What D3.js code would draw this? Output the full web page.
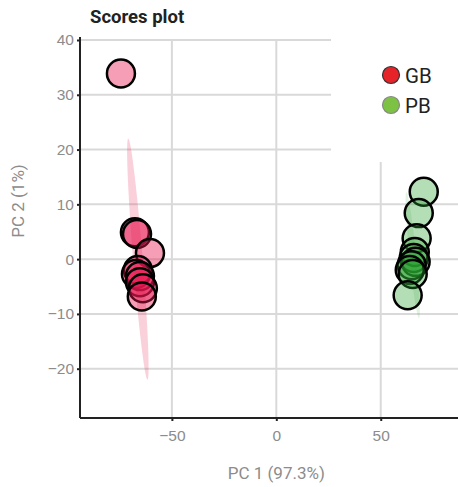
<!DOCTYPE html>
<html>
<head>
<meta charset="utf-8">
<script src="https://cdn.jsdelivr.net/npm/d3@7"></script>
<style>
  body { margin: 0; background: #fff; }
  svg { font-family: Roboto, "Open Sans", sans-serif; }
</style>
</head>
<body>
<div id="chart"></div>
<script>
var groups = ["GB", "PB"];
var gbX = [-74.4, -67.7, -66.7, -60.5, -66.3, -67.2, -65.3, -65.3, -63.9, -64.4];
var gbY = [33.9, 4.9, 4.6, 1.1, -2.0, -2.7, -3.1, -4.2, -5.3, -6.8];
var pbX = [70.6, 68.2, 67.2, 66.3, 65.8, 66.7, 64.8, 63.9, 65.3, 62.9];
var pbY = [12.3, 8.4, 3.8, 1.3, 0.2, -0.5, -1.1, -2.0, -2.7, -6.6];
// ellipse: center x, center y, half length, half width, tilt (data units)
var gbEllipse = [-66.3, 0, 22, 2.3, 4.6];
var pbEllipse = [65.3, 0.7, 11.5, 1.6, 3.0];
var xTicks = [-50, 0, 50];
var yTicks = [-20, -10, 0, 10, 20, 30, 40];

var width = 458, height = 487;
var margin = {top: 40, right: 0, bottom: 69, left: 80};

var svg = d3.select("#chart").append("svg")
    .attr("width", width)
    .attr("height", height);

var x = d3.scaleLinear().domain([-94, 87]).range([margin.left, width - margin.right]);
var y = d3.scaleLinear().domain([-29, 40]).range([height - margin.bottom, margin.top]);

// grid
svg.append("g").selectAll("line")
    .data(yTicks).enter().append("line")
    .attr("x1", margin.left).attr("x2", width)
    .attr("y1", function(d) { return y(d); }).attr("y2", function(d) { return y(d); })
    .attr("stroke", "#d9d9d9").attr("stroke-width", 2);
svg.append("g").selectAll("line")
    .data(xTicks).enter().append("line")
    .attr("y1", y(40)).attr("y2", height - margin.bottom)
    .attr("x1", function(d) { return x(d); }).attr("x2", function(d) { return x(d); })
    .attr("stroke", "#d9d9d9").attr("stroke-width", 2);

// ellipses
function ellipsePath(e) {
    var pts = d3.range(0, 65).map(function(i) {
        var t = i / 64 * 2 * Math.PI;
        var along = Math.cos(t), across = Math.sin(t);
        // long axis goes from (cx - tilt, cy + len) to (cx + tilt, cy - len)
        var px = e[0] - along * e[4] + across * e[3];
        var py = e[1] + along * e[2];
        return [x(px), y(py)];
    });
    return d3.line()(pts) + "Z";
}
svg.append("path").attr("d", ellipsePath(gbEllipse))
    .attr("fill", "rgba(232,40,90,0.22)");
svg.append("path").attr("d", ellipsePath(pbEllipse))
    .attr("fill", "rgba(60,170,60,0.15)");

// points
function drawPoints(xs, ys, fill) {
    svg.append("g").selectAll("circle")
        .data(xs).enter().append("circle")
        .attr("cx", function(d) { return x(d); })
        .attr("cy", function(d, i) { return y(ys[i]); })
        .attr("r", 14)
        .attr("fill", fill)
        .attr("stroke", "#000")
        .attr("stroke-width", 2.5);
}
drawPoints(gbX, gbY, "rgba(232,25,80,0.42)");
drawPoints(pbX, pbY, "rgba(40,160,45,0.35)");

// legend background
svg.append("rect").attr("x", 331).attr("y", 0)
    .attr("width", width - 331).attr("height", 162)
    .attr("fill", "#fff");

// axes
var yAxis = svg.append("g")
    .attr("transform", "translate(" + margin.left + ",0)")
    .call(d3.axisLeft(y).tickValues(yTicks).tickSize(3).tickPadding(3));
var xAxis = svg.append("g")
    .attr("transform", "translate(0," + (height - margin.bottom) + ")")
    .call(d3.axisBottom(x).tickValues(xTicks).tickSize(3).tickPadding(9));
[xAxis, yAxis].forEach(function(a) {
    a.select(".domain").attr("stroke", "#222").attr("stroke-width", 2);
    a.selectAll(".tick line").attr("stroke", "#222").attr("stroke-width", 2);
    a.selectAll(".tick text").attr("fill", "#8c8c8c").style("font-size", "15.5px");
});
yAxis.select(".domain").attr("d", "M0," + (margin.top - 3) + "V" + (height - margin.bottom));
xAxis.select(".domain").attr("d", "M" + margin.left + ",0H" + width);

// titles
svg.append("text").attr("x", 90).attr("y", 23)
    .style("font-size", "18.5px").style("font-weight", "bold").attr("fill", "#222")
    .text("Scores plot");
svg.append("text")
    .attr("transform", "translate(24,201) rotate(-90)")
    .attr("text-anchor", "middle")
    .style("font-size", "17px").attr("fill", "#8c8c8c")
    .text("PC 2 (1%)");
svg.append("text").attr("x", x(0)).attr("y", 479)
    .attr("text-anchor", "middle")
    .style("font-size", "17px").attr("fill", "#8c8c8c")
    .text("PC 1 (97.3%)");

// legend
var legendColors = ["#e62329", "#7dc242"];
var legendStroke = ["#333", "#888"];
var lg = svg.append("g").selectAll("g").data(groups).enter().append("g")
    .attr("transform", function(d, i) { return "translate(391," + (75 + i * 30) + ")"; });
lg.append("circle").attr("r", 8.5)
    .attr("fill", function(d, i) { return legendColors[i]; })
    .attr("stroke", function(d, i) { return legendStroke[i]; })
    .attr("stroke-width", 1.2);
lg.append("text").attr("x", 14).attr("y", 7.5)
    .style("font-size", "20.5px").attr("fill", "#222")
    .text(function(d) { return d; });
</script>
</body>
</html>
